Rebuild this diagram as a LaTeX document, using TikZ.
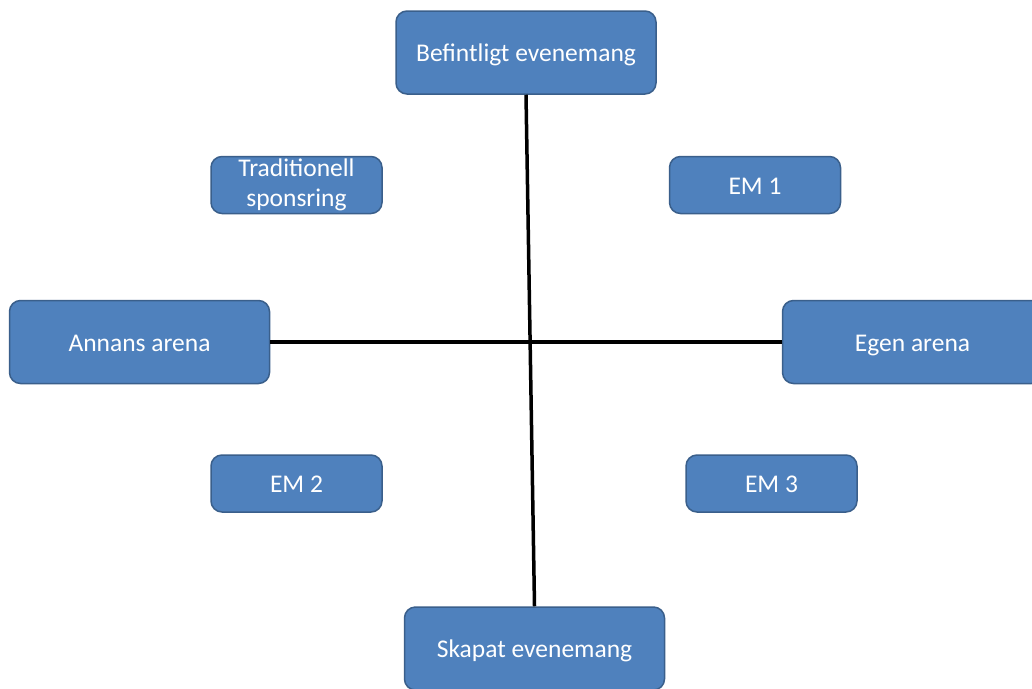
\documentclass[tikz,border=0pt]{standalone}
\usepackage{fontspec}
\setmainfont{Carlito}
\definecolor{boxfill}{HTML}{4F81BD}
\definecolor{boxedge}{HTML}{3A5F8B}
\begin{document}
\begin{tikzpicture}[x=1pt,y=-1pt,
  box/.style={draw=boxedge, line width=1.5pt, fill=boxfill, rounded corners=11pt,
    text=white, font=\fontsize{25.5}{30}\selectfont, align=center, inner sep=0pt},
  oneline/.style={text height=18pt, text depth=0pt},
  bigbox/.style={box, oneline, minimum width=260pt, minimum height=83pt},
  smallbox/.style={box, minimum width=171pt, minimum height=57pt},
  axis/.style={line width=3.5pt, black}]
  \clip (0,0) rectangle (1032,688);
  \fill[white] (0,0) rectangle (1032,688);

  % quadrant boxes
  \node[bigbox] (bef) at (526,52.5) {Befintligt evenemang};
  \node[bigbox] (skap) at (534.5,648.5) {Skapat evenemang};
  \node[bigbox] (annan) at (139.5,342) {Annans arena};
  \node[bigbox] (egen) at (912.5,342) {Egen arena};
  \node[smallbox] (trad) at (296.5,185) {Traditionell\\sponsring};
  \node[smallbox, oneline] (em1) at (755,185) {EM 1};
  \node[smallbox, oneline] (em2) at (296.5,483.5) {EM 2};
  \node[smallbox, oneline] (em3) at (771.5,483.5) {EM 3};

  % axes between the opposite boxes
  \draw[axis] (bef.south) -- (skap.north);
  \draw[axis] (annan.east) -- (egen.west);
\end{tikzpicture}
\end{document}
